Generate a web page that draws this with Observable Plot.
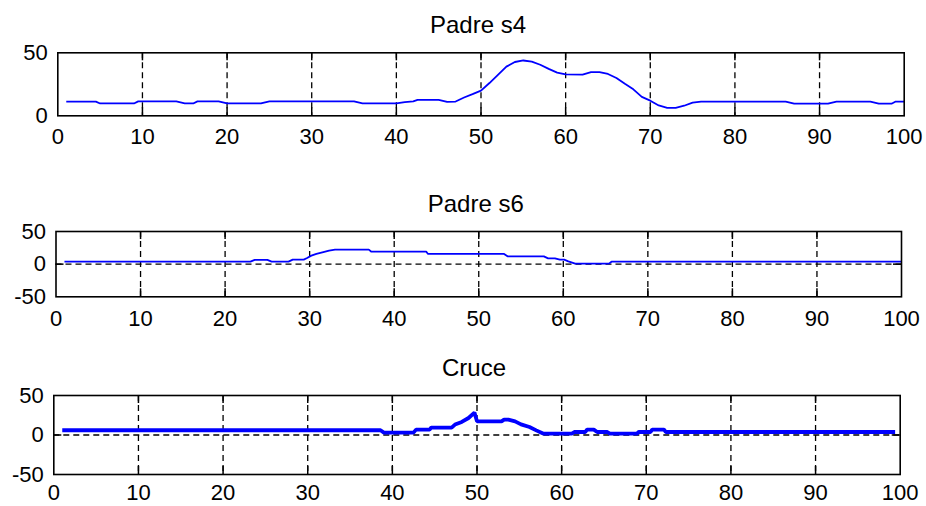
<!DOCTYPE html>
<html>
<head>
<meta charset="utf-8">
<script src="https://cdn.jsdelivr.net/npm/d3@7"></script>
<script src="https://cdn.jsdelivr.net/npm/@observablehq/plot@0.6"></script>
<style>
  html, body { margin: 0; padding: 0; background: #fff; }
  #chart svg { display: block; }
</style>
</head>
<body>
<div id="chart"></div>
<script>
// ---- data ----
const titles = ["Padre s4", "Padre s6", "Cruce"];
const xTicks = [0, 10, 20, 30, 40, 50, 60, 70, 80, 90, 100];
const yTicksS4 = [0, 50];
const yTicksSym = [-50, 0, 50];

const s4X = [1, 4.5, 5, 9, 9.5, 14, 15, 16, 16.5, 19, 20, 24, 25, 35, 36, 40, 41, 42, 42.5, 45, 46, 47, 48, 49, 50, 51, 52, 53, 54, 55, 56, 57, 58, 59, 60, 62, 63, 64, 65, 66, 67, 68, 69, 70, 71, 72, 73, 74, 75, 76, 86, 87, 91, 92, 96, 97, 98.5, 99, 100];
const s4Y = [11.3, 11.3, 9.8, 9.8, 11.4, 11.4, 9.8, 9.8, 11.4, 11.4, 9.8, 9.8, 11.4, 11.4, 9.8, 9.8, 10.9, 11.5, 12.7, 12.7, 11.1, 11.3, 14.5, 17.2, 20, 26, 32.5, 39, 42.7, 43.9, 43, 40.5, 37.2, 34.3, 32.8, 32.6, 34.6, 34.6, 33.2, 30, 25.4, 21, 15, 12, 8.2, 6.3, 6.3, 8, 10.5, 11.3, 11.3, 9.6, 9.6, 11.3, 11.3, 9.6, 9.6, 11.3, 11.3];

const s6X = [1, 23, 23.5, 25, 25.5, 27.5, 28, 29.3, 29.7, 30.2, 30.8, 31.5, 32.3, 33, 37, 37.3, 43.8, 44, 53, 53.4, 57.7, 58.2, 59, 59.6, 60.1, 60.6, 61.4, 65.4, 65.7, 100];
const s6Y = [3.8, 3.8, 6.5, 6.5, 3.8, 3.8, 6.9, 6.9, 9.4, 13, 15.6, 18, 20.7, 22.2, 22.2, 19.1, 19.1, 15.6, 15.6, 12, 12, 8.9, 8.9, 6.9, 6.9, 4.3, 0.8, 0.8, 3.8, 3.8];

const cruceX = [1, 38.6, 39, 42.5, 42.8, 44.4, 44.6, 47, 47.4, 48.2, 49, 49.7, 50, 52.9, 53.2, 53.7, 54.5, 55.2, 56.2, 57, 57.8, 61.2, 61.5, 62.8, 63, 63.8, 64.2, 65.4, 65.7, 68.9, 69.1, 70.5, 70.7, 72.1, 72.3, 99.4];
const cruceY = [6, 6, 3, 3, 6.8, 6.8, 9.4, 9.4, 13.2, 16.5, 21.5, 28.3, 17.3, 17.3, 19.5, 19.5, 17.3, 13.5, 10.1, 5.9, 1.8, 1.8, 3.8, 3.8, 6.8, 6.8, 3.8, 3.8, 1.8, 1.8, 3.8, 3.8, 6.8, 6.8, 3.8, 3.8];

// ---- drawing ----
const W = 926;
const FONT = "'Liberation Sans', Arial, Helvetica, sans-serif";

function panel(cfg) {
  const data = cfg.xs.map((x, i) => ({x, y: cfg.ys[i]}));
  const frameW = W - cfg.marginLeft - cfg.marginRight;
  const frameH = cfg.height - cfg.marginTop - cfg.marginBottom;
  const grid = xTicks.slice(1, -1);
  const marks = [];
  if (cfg.zeroLine) {
    marks.push(Plot.ruleY([0], {stroke: "black", strokeWidth: 1.3, strokeDasharray: "6,4"}));
  }
  marks.push(Plot.ruleX(grid, {stroke: "black", strokeWidth: 1.3, strokeDasharray: "6,4"}));
  marks.push(Plot.tickX(grid, {x: d => d, insetTop: frameH - 8, stroke: "black", strokeWidth: 1.5}));
  marks.push(Plot.tickX(grid, {x: d => d, insetBottom: frameH - 8, stroke: "black", strokeWidth: 1.5}));
  if (cfg.zeroLine) {
    marks.push(Plot.tickY([0], {y: d => d, insetRight: frameW - 8, stroke: "black", strokeWidth: 1.5}));
    marks.push(Plot.tickY([0], {y: d => d, insetLeft: frameW - 8, stroke: "black", strokeWidth: 1.5}));
  }
  marks.push(Plot.line(data, {x: "x", y: "y", stroke: "#0000ff", strokeWidth: cfg.lineWidth, strokeLinejoin: "miter", strokeLinecap: "butt"}));
  marks.push(Plot.frame({stroke: "black", strokeWidth: 1.6}));
  marks.push(Plot.axisX({ticks: xTicks, tickSize: 0, tickPadding: cfg.xPad, fill: "black", label: null, tickFormat: d => String(d)}));
  marks.push(Plot.axisY({ticks: cfg.yTicks, tickSize: 0, tickPadding: 10, fill: "black", label: null, tickFormat: d => (d < 0 ? "-" + Math.abs(d) : String(d))}));
  marks.push(Plot.text([cfg.title], {text: d => d, frameAnchor: "top", dy: -20, dx: -3, lineAnchor: "bottom", fontSize: 24, fill: "black"}));

  return Plot.plot({
    width: W,
    height: cfg.height,
    marginLeft: cfg.marginLeft,
    marginRight: cfg.marginRight,
    marginTop: cfg.marginTop,
    marginBottom: cfg.marginBottom,
    style: {fontFamily: FONT, fontSize: "22px", color: "black", background: "white", overflow: "visible"},
    x: {domain: [0, 100], axis: null},
    y: {domain: cfg.yDomain, axis: null},
    marks
  });
}

const chart = document.getElementById("chart");
chart.appendChild(panel({
  title: titles[0], xs: s4X, ys: s4Y, yDomain: [0, 50], yTicks: yTicksS4,
  marginLeft: 57.3, marginRight: 22.3, marginTop: 52.3, marginBottom: 54.7, height: 170,
  lineWidth: 1.8, zeroLine: false, xPad: 13
}));
chart.appendChild(panel({
  title: titles[1], xs: s6X, ys: s6Y, yDomain: [-50, 50], yTicks: yTicksSym,
  marginLeft: 55.5, marginRight: 25, marginTop: 61, marginBottom: 43.7, height: 170,
  lineWidth: 1.8, zeroLine: true, xPad: 14
}));
chart.appendChild(panel({
  title: titles[2], xs: cruceX, ys: cruceY, yDomain: [-50, 50], yTicks: yTicksSym,
  marginLeft: 53.3, marginRight: 26.3, marginTop: 55, marginBottom: 32, height: 166,
  lineWidth: 3.8, zeroLine: true, xPad: 10
}));
</script>
</body>
</html>
